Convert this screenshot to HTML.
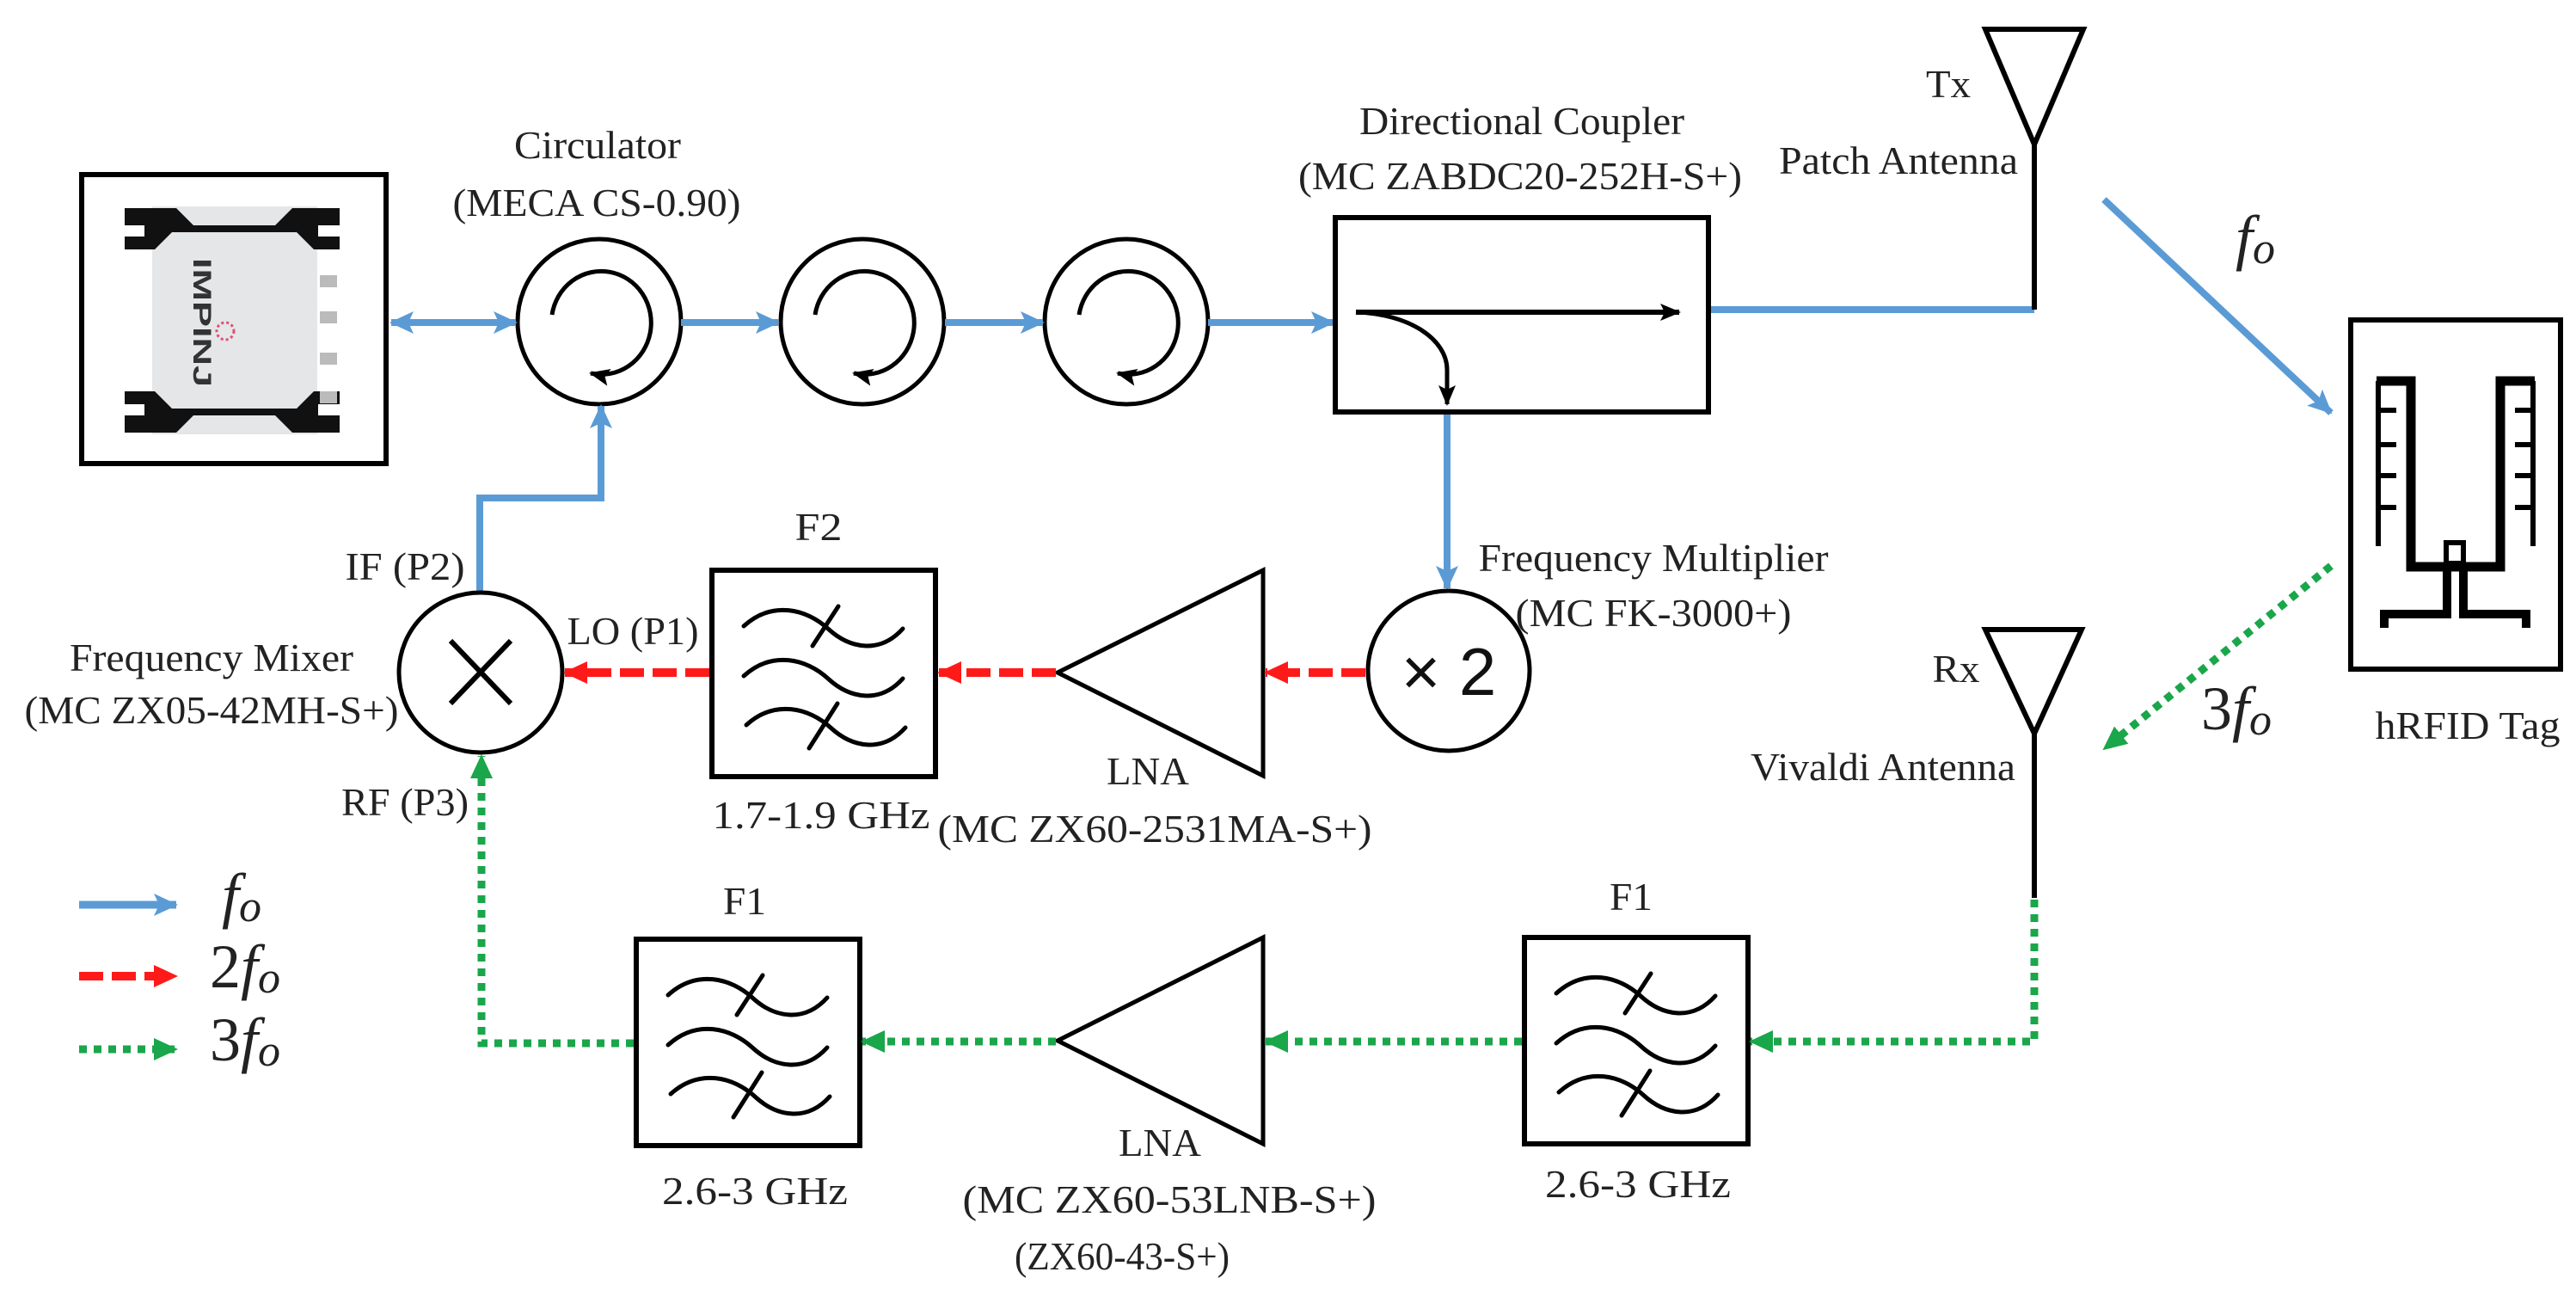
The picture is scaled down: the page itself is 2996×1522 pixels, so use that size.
<!DOCTYPE html>
<html><head><meta charset="utf-8"><style>
html,body{margin:0;padding:0;background:#fff;}
svg{display:block;}
text{font-family:"Liberation Serif","Times New Roman",serif;fill:#222;}
</style></head><body>
<svg width="2996" height="1522" viewBox="0 0 2996 1522" xmlns="http://www.w3.org/2000/svg">
<defs>
<marker id="ab" markerUnits="userSpaceOnUse" markerWidth="30" markerHeight="30" refX="26" refY="15" orient="auto-start-reverse"><path d="M0,2 L28,15 L0,28 L6,15 Z" fill="#5b9bd5"/></marker>
<marker id="ar" markerUnits="userSpaceOnUse" markerWidth="30" markerHeight="30" refX="26" refY="15" orient="auto"><path d="M0,2 L28,15 L0,28 Z" fill="#ff1a1a"/></marker>
<marker id="ag" markerUnits="userSpaceOnUse" markerWidth="30" markerHeight="30" refX="26" refY="15" orient="auto"><path d="M0,2 L28,15 L0,28 Z" fill="#1aa64a"/></marker>
<marker id="ak" markerUnits="userSpaceOnUse" markerWidth="26" markerHeight="26" refX="22" refY="13" orient="auto"><path d="M0,3 L24,13 L0,23 L5,13 Z" fill="#000"/></marker>
<g id="filt">
<rect x="0" y="0" width="260" height="240" fill="#fff" stroke="#000" stroke-width="6"/>
<g fill="none" stroke="#000" stroke-width="5" stroke-linecap="round">
<path d="M37,65 C70,35 110,45 135,68 S195,98 222,68"/>
<path d="M37,123 C70,93 110,103 135,126 S195,156 222,126"/>
<path d="M40,180 C73,150 113,160 138,183 S198,213 225,183"/>
<path d="M147,42 L117,88"/>
<path d="M146,155 L113,207"/>
</g></g>
<g id="circ">
<ellipse cx="0" cy="0" rx="95" ry="96" fill="#fff" stroke="#000" stroke-width="5"/>
<path d="M-55,-8 A58,60 0 1 1 -10,60" fill="none" stroke="#000" stroke-width="5" marker-end="url(#ak)"/>
</g>
</defs>

<!-- Impinj reader -->
<rect x="95" y="203" width="354" height="336" fill="#fff" stroke="#000" stroke-width="6"/>
<rect x="177" y="240" width="192" height="265" fill="#e4e6e8"/>
<path d="M145,242 H205 L225,262 H320 L340,242 H395 V262 H370 V275 H395 V290 H365 L345,270 H200 L180,290 H145 V275 H168 V262 H145 Z" fill="#111"/>
<path d="M145,503 H205 L225,483 H320 L340,503 H395 V483 H370 V470 H395 V455 H365 L345,475 H200 L180,455 H145 V470 H168 V483 H145 Z" fill="#111"/>
<text x="0" y="0" transform="translate(225,300) rotate(90)" style="font-family:'Liberation Sans',sans-serif;font-weight:bold;font-size:30px;fill:#333" textLength="150" lengthAdjust="spacingAndGlyphs">IMPINJ</text>
<circle cx="262" cy="385" r="10" fill="none" stroke="#e05070" stroke-width="3" stroke-dasharray="3 3"/>
<g fill="#bbb"><rect x="372" y="320" width="20" height="14"/><rect x="372" y="362" width="20" height="14"/><rect x="372" y="410" width="20" height="14"/><rect x="372" y="455" width="20" height="14"/></g>

<!-- Circulators -->
<use href="#circ" x="697" y="374"/>
<use href="#circ" x="1003" y="374"/>
<use href="#circ" x="1310" y="374"/>

<!-- blue lines top -->
<g stroke="#5b9bd5" stroke-width="8" fill="none">
<line x1="455" y1="375" x2="600" y2="375" marker-start="url(#ab)" marker-end="url(#ab)"/>
<line x1="792" y1="375" x2="905" y2="375" marker-end="url(#ab)"/>
<line x1="1099" y1="375" x2="1213" y2="375" marker-end="url(#ab)"/>
<line x1="1405" y1="375" x2="1551" y2="375" marker-end="url(#ab)"/>
<polyline points="1988,360 2366,360"/>
<line x1="1683" y1="482" x2="1683" y2="684" marker-end="url(#ab)"/>
<polyline points="558,689 558,579 699,579 699,472" marker-end="url(#ab)"/>
<line x1="2447" y1="232" x2="2711" y2="480" marker-end="url(#ab)"/>
</g>

<!-- Coupler -->
<rect x="1553" y="253" width="434" height="226" fill="#fff" stroke="#000" stroke-width="6"/>
<line x1="1577" y1="363" x2="1953" y2="363" stroke="#000" stroke-width="6" marker-end="url(#ak)"/>
<path d="M1577,363 C1640,365 1683,395 1683,430 L1683,470" fill="none" stroke="#000" stroke-width="5" marker-end="url(#ak)"/>

<!-- Tx antenna -->
<path d="M2366,360 V168" stroke="#000" stroke-width="6"/>
<path d="M2309,34 H2423 L2366,168 Z" fill="none" stroke="#000" stroke-width="6"/>
<!-- Rx antenna -->
<path d="M2366,853 V1044" stroke="#000" stroke-width="6"/>
<path d="M2309,732 H2421 L2366,853 Z" fill="none" stroke="#000" stroke-width="6"/>

<!-- Tag -->
<g transform="translate(2720,360)">
<rect x="14" y="12" width="244" height="406" fill="#fff" stroke="#000" stroke-width="6"/>
<g fill="none" stroke="#000" stroke-linejoin="miter">
<path d="M44,83 H84 V299 H188 V83 H228" stroke-width="11"/>
<path d="M46,83 V275 M46,117 H67 M46,157 H67 M46,193 H67 M46,230 H67" stroke-width="6"/>
<path d="M226,83 V275 M226,117 H205 M226,157 H205 M226,193 H205 M226,230 H205" stroke-width="6"/>
<rect x="125" y="271" width="20" height="24" stroke-width="6"/>
<path d="M126,296 V354 H53 V370 M145,296 V354 H218 V370" stroke-width="10"/>
</g></g>

<!-- x2 multiplier -->
<ellipse cx="1685" cy="780" rx="94" ry="93" fill="#fff" stroke="#000" stroke-width="5"/>
<text x="1685" y="808" text-anchor="middle" style="font-family:'Liberation Sans',sans-serif;font-size:78px;fill:#111">× 2</text>

<!-- Mixer -->
<ellipse cx="559" cy="782" rx="95" ry="93" fill="#fff" stroke="#000" stroke-width="5"/>
<path d="M524,745 L594,818 M594,745 L524,818" stroke="#000" stroke-width="6"/>

<!-- Filters -->
<use href="#filt" x="828" y="663"/>
<use href="#filt" x="740" y="1092"/>
<use href="#filt" x="1773" y="1090"/>

<!-- LNAs -->
<path d="M1469,663 V902 L1230,782 Z" fill="#fff" stroke="#000" stroke-width="5" stroke-linejoin="miter"/>
<path d="M1469,1090 V1330 L1230,1210 Z" fill="#fff" stroke="#000" stroke-width="5" stroke-linejoin="miter"/>

<!-- red dashed -->
<g stroke="#ff1a1a" stroke-width="10" stroke-dasharray="28 10" fill="none">
<line x1="1588" y1="782" x2="1472" y2="782" marker-end="url(#ar)"/>
<line x1="1228" y1="782" x2="1092" y2="782" marker-end="url(#ar)"/>
<line x1="825" y1="782" x2="657" y2="782" marker-end="url(#ar)"/>
</g>
<!-- green dotted -->
<g stroke="#1aa64a" stroke-width="9" stroke-dasharray="9 8" fill="none">
<polyline points="2366,1046 2366,1211 2036,1211" marker-end="url(#ag)"/>
<line x1="1770" y1="1211" x2="1472" y2="1211" marker-end="url(#ag)"/>
<line x1="1228" y1="1211" x2="1003" y2="1211" marker-end="url(#ag)"/>
<polyline points="737,1213 560,1213 560,879" marker-end="url(#ag)"/>
<line x1="2711" y1="658" x2="2447" y2="871" marker-end="url(#ag)"/>
</g>

<!-- Legend -->
<line x1="92" y1="1052" x2="205" y2="1052" stroke="#5b9bd5" stroke-width="9" marker-end="url(#ab)"/>
<line x1="92" y1="1135" x2="205" y2="1135" stroke="#ff1a1a" stroke-width="10" stroke-dasharray="28 10" marker-end="url(#ar)"/>
<line x1="92" y1="1220" x2="205" y2="1220" stroke="#1aa64a" stroke-width="9" stroke-dasharray="9 8" marker-end="url(#ag)"/>
<g style="font-size:72px">
<text x="258" y="1065"><tspan font-style="italic">f</tspan><tspan font-style="italic" font-size="52" dy="6">o</tspan></text>
<text x="244" y="1148">2<tspan font-style="italic">f</tspan><tspan font-style="italic" font-size="52" dy="6">o</tspan></text>
<text x="244" y="1233">3<tspan font-style="italic">f</tspan><tspan font-style="italic" font-size="52" dy="6">o</tspan></text>
<text x="2600" y="300"><tspan font-style="italic">f</tspan><tspan font-style="italic" font-size="52" dy="6">o</tspan></text>
<text x="2560" y="848">3<tspan font-style="italic">f</tspan><tspan font-style="italic" font-size="52" dy="6">o</tspan></text>
</g>

<!-- Labels -->
<g style="font-size:46px" text-anchor="middle">
<text x="695" y="184" textLength="194" lengthAdjust="spacingAndGlyphs">Circulator</text>
<text x="694" y="251" textLength="335" lengthAdjust="spacingAndGlyphs">(MECA CS-0.90)</text>
<text x="1770" y="156" textLength="378" lengthAdjust="spacingAndGlyphs">Directional Coupler</text>
<text x="1768" y="220" textLength="516" lengthAdjust="spacingAndGlyphs">(MC ZABDC20-252H-S+)</text>
<text x="2266" y="113" textLength="52" lengthAdjust="spacingAndGlyphs">Tx</text>
<text x="2208" y="202" textLength="278" lengthAdjust="spacingAndGlyphs">Patch Antenna</text>
<text x="2870" y="859" textLength="215" lengthAdjust="spacingAndGlyphs">hRFID Tag</text>
<text x="2275" y="793" textLength="55" lengthAdjust="spacingAndGlyphs">Rx</text>
<text x="2190" y="907" textLength="308" lengthAdjust="spacingAndGlyphs">Vivaldi Antenna</text>
<text x="1923" y="664" textLength="407" lengthAdjust="spacingAndGlyphs">Frequency Multiplier</text>
<text x="1923" y="728" textLength="321" lengthAdjust="spacingAndGlyphs">(MC FK-3000+)</text>
<text x="471" y="674" textLength="139" lengthAdjust="spacingAndGlyphs">IF (P2)</text>
<text x="736" y="749" textLength="153" lengthAdjust="spacingAndGlyphs">LO (P1)</text>
<text x="246" y="780" textLength="330" lengthAdjust="spacingAndGlyphs">Frequency Mixer</text>
<text x="246" y="841" textLength="435" lengthAdjust="spacingAndGlyphs">(MC ZX05-42MH-S+)</text>
<text x="471" y="948" textLength="148" lengthAdjust="spacingAndGlyphs">RF (P3)</text>
<text x="952" y="628" textLength="55" lengthAdjust="spacingAndGlyphs">F2</text>
<text x="955" y="963" textLength="253" lengthAdjust="spacingAndGlyphs">1.7-1.9 GHz</text>
<text x="1335" y="912" textLength="96" lengthAdjust="spacingAndGlyphs">LNA</text>
<text x="1343" y="979" textLength="505" lengthAdjust="spacingAndGlyphs">(MC ZX60-2531MA-S+)</text>
<text x="866" y="1063" textLength="50" lengthAdjust="spacingAndGlyphs">F1</text>
<text x="878" y="1400" textLength="216" lengthAdjust="spacingAndGlyphs">2.6-3 GHz</text>
<text x="1349" y="1344" textLength="96" lengthAdjust="spacingAndGlyphs">LNA</text>
<text x="1360" y="1410" textLength="481" lengthAdjust="spacingAndGlyphs">(MC ZX60-53LNB-S+)</text>
<text x="1305" y="1476" textLength="250" lengthAdjust="spacingAndGlyphs">(ZX60-43-S+)</text>
<text x="1897" y="1058" textLength="50" lengthAdjust="spacingAndGlyphs">F1</text>
<text x="1905" y="1392" textLength="216" lengthAdjust="spacingAndGlyphs">2.6-3 GHz</text>
</g>
</svg>
</body></html>
